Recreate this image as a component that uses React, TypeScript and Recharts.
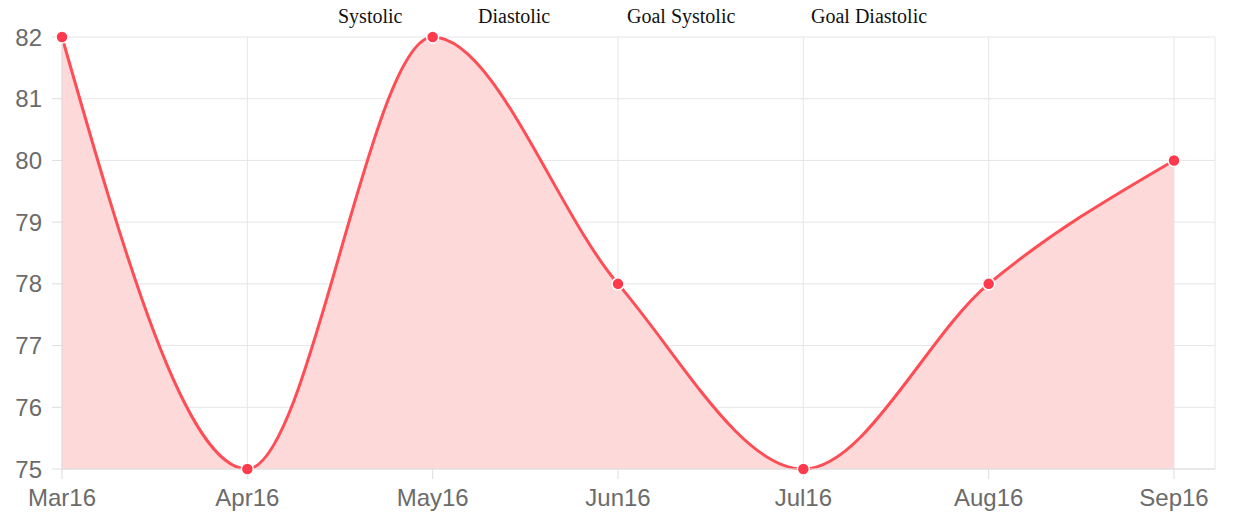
import React from 'react';
import {
  AreaChart,
  Area,
  XAxis,
  YAxis,
  CartesianGrid,
} from 'recharts';

// months on the x axis
const months = ['Mar16', 'Apr16', 'May16', 'Jun16', 'Jul16', 'Aug16', 'Sep16'];
// systolic readings, one per month
const systolic = [82, 75, 82, 78, 75, 78, 80];
// y axis ticks
const yTicks = [75, 76, 77, 78, 79, 80, 81, 82];
// legend labels (only the first series has data)
const legendNames = ['Systolic', 'Diastolic', 'Goal Systolic', 'Goal Diastolic'];

const data = months.map((m, i) => ({ month: m, systolic: systolic[i] }));

// left edge of each legend label, in px
const legendX = [338, 478, 627, 811];

const tickStyle = { fill: '#6b6b6b', fontSize: 24, fontFamily: '"Liberation Sans", Arial, sans-serif' };

export default function App() {
  return (
    <div style={{ position: 'absolute', left: 0, top: 0, width: 1236, height: 515, background: '#fff' }}>
      <AreaChart
        width={1236}
        height={515}
        data={data}
        margin={{ top: 37, right: 21, bottom: 0, left: 0 }}
      >
        <CartesianGrid stroke="#e6e6e6" strokeWidth={1} />
        <XAxis
          dataKey="month"
          height={46}
          padding={{ left: 0, right: 41 }}
          tick={tickStyle}
          tickSize={10}
          tickMargin={10}
          stroke="#ddd"
          tickLine={{ stroke: '#ddd' }}
          interval={0}
        />
        <YAxis
          width={62}
          domain={[75, 82]}
          ticks={yTicks}
          tick={tickStyle}
          tickSize={10}
          tickMargin={10}
          stroke="#ddd"
          tickLine={{ stroke: '#ddd' }}
          interval={0}
        />
        <Area
          type="monotone"
          dataKey="systolic"
          stroke="#ff4d55"
          strokeWidth={3}
          fill="#fdd9da"
          fillOpacity={1}
          baseValue={75}
          dot={{ r: 6, fill: '#ff3a4c', stroke: '#fff', strokeWidth: 1.5, fillOpacity: 1 }}
          isAnimationActive={false}
        />
      </AreaChart>
      {legendNames.map((name, i) => (
        <span
          key={name}
          style={{
            position: 'absolute',
            left: legendX[i],
            top: 5,
            fontSize: 20,
            fontFamily: '"Liberation Serif", "DejaVu Serif", serif',
            color: '#111',
            whiteSpace: 'nowrap',
          }}
        >
          {name}
        </span>
      ))}
    </div>
  );
}
